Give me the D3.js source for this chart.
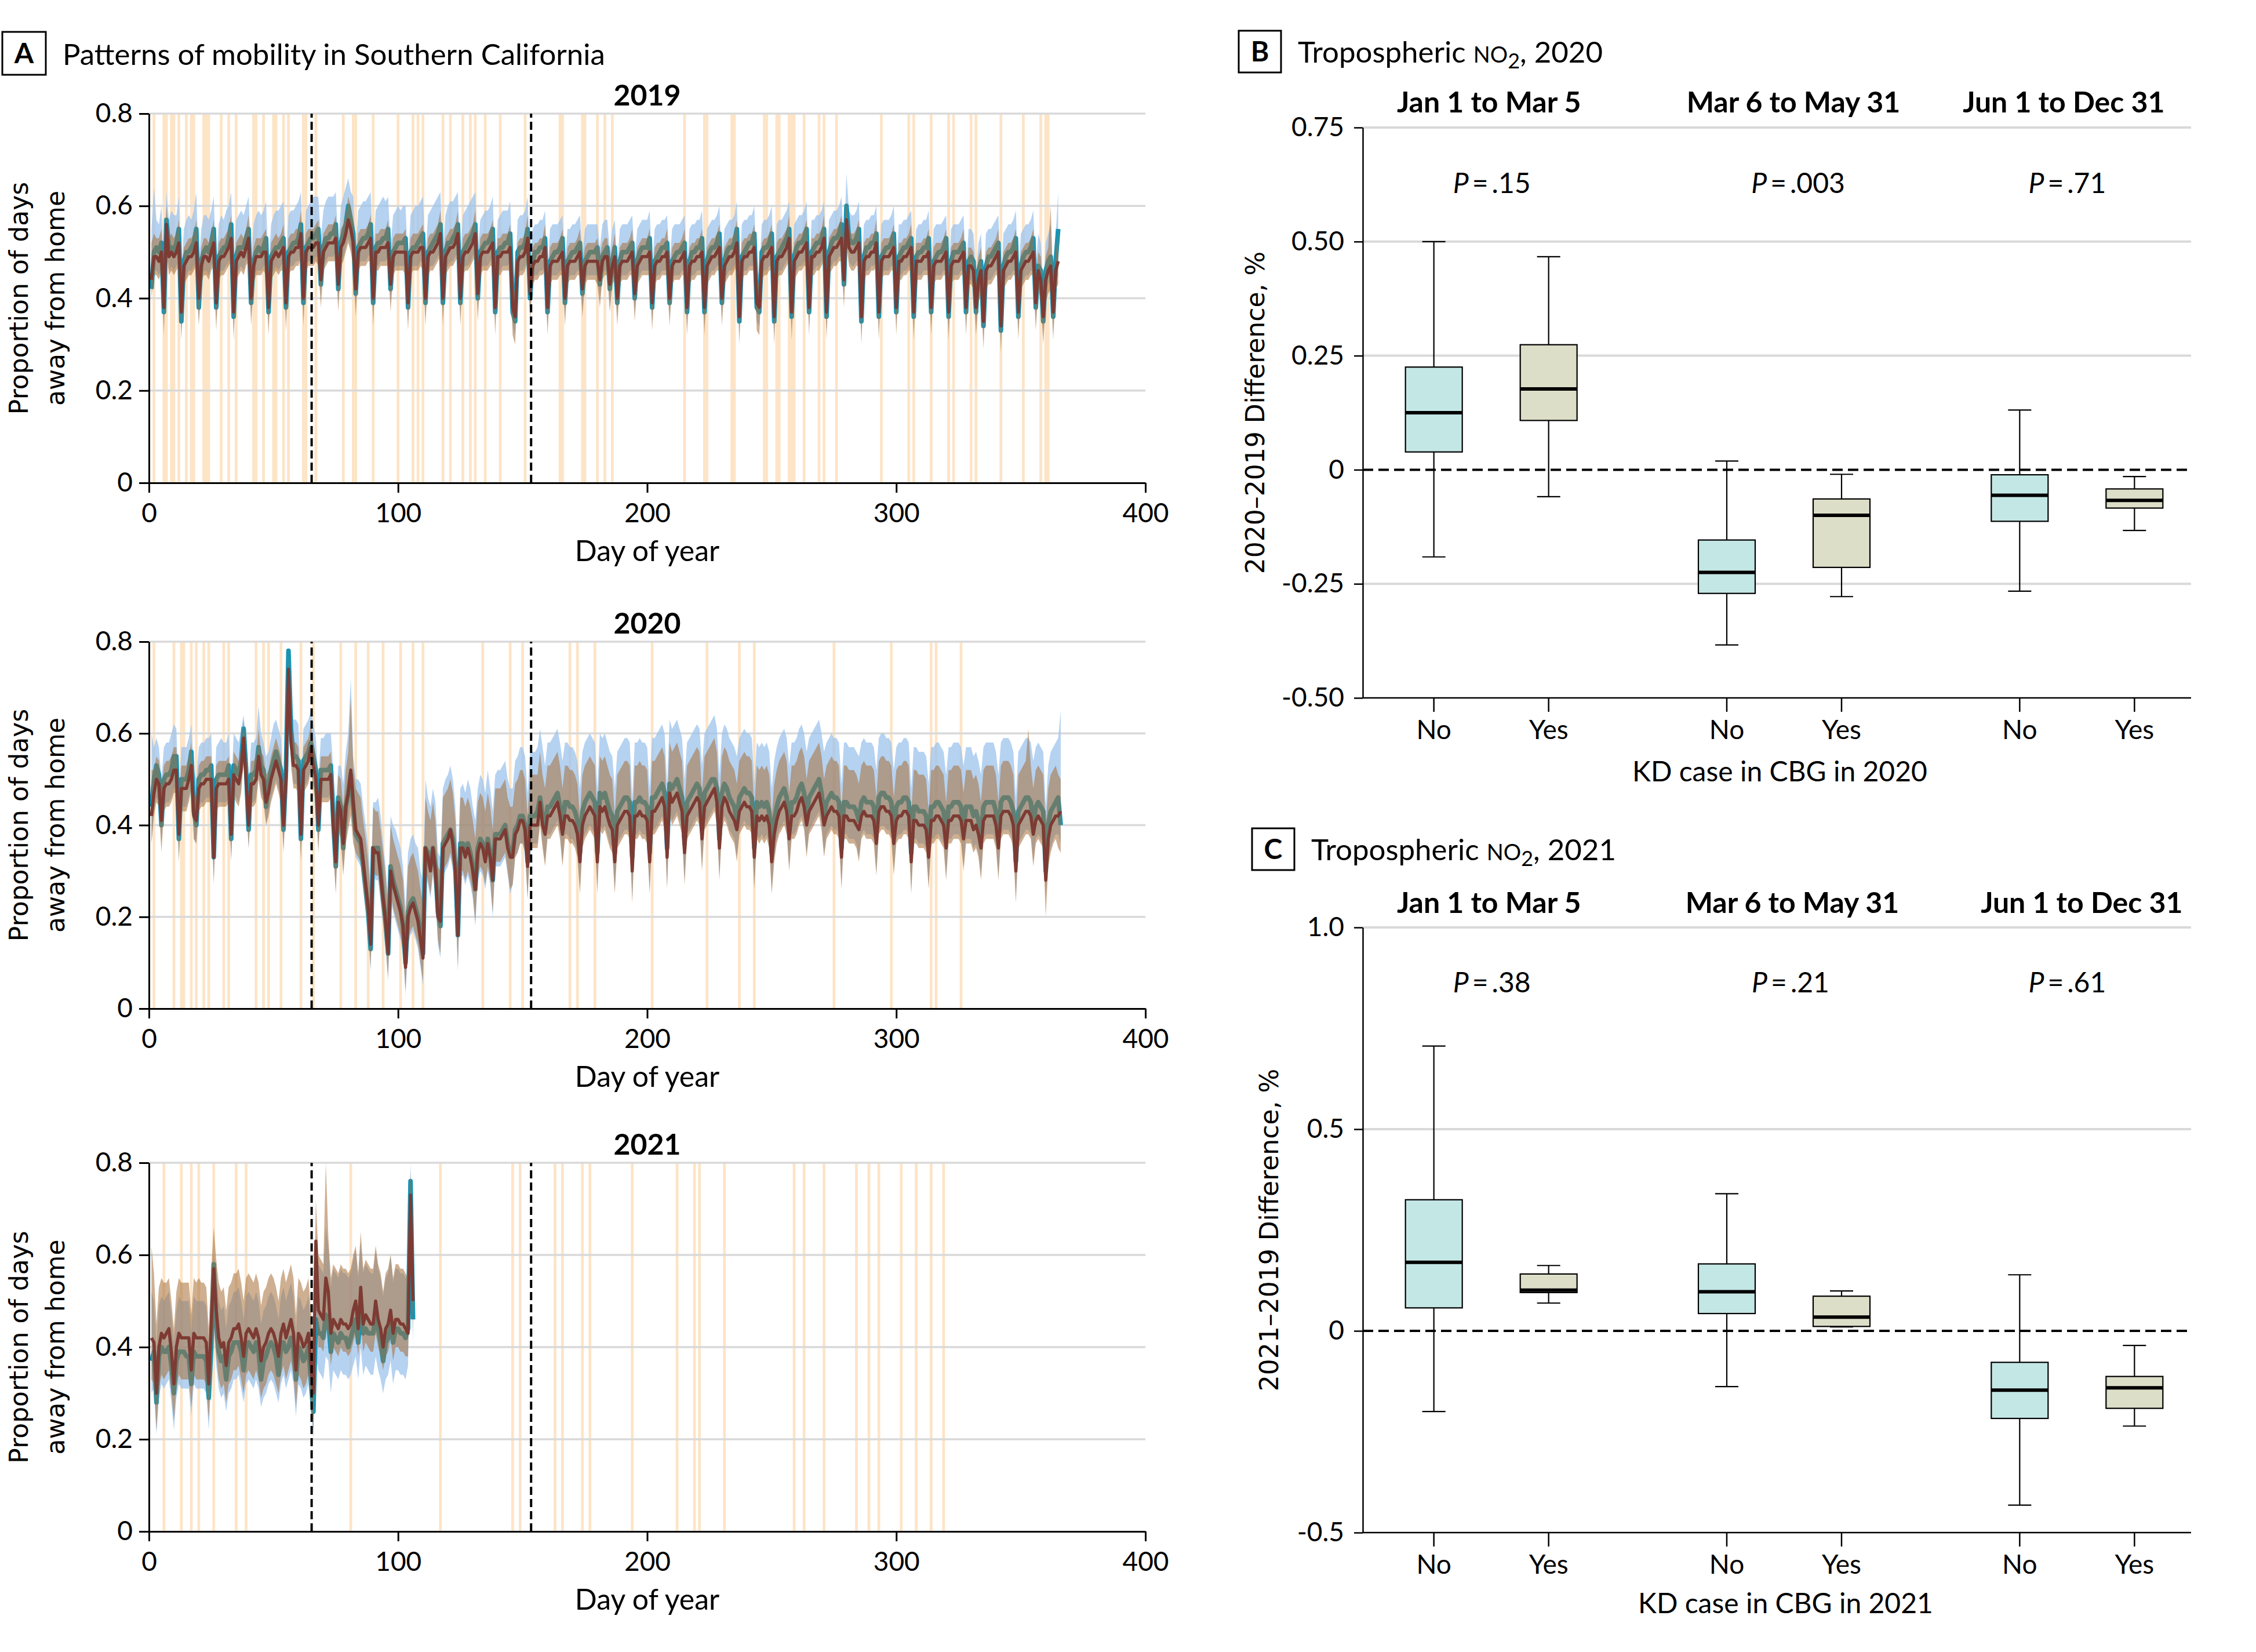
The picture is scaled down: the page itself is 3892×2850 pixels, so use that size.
<!DOCTYPE html>
<html><head><meta charset="utf-8">
<script src="https://cdn.jsdelivr.net/npm/d3@7"></script>
<style>body{margin:0;background:#fff}svg{display:block}</style>
</head><body>
<svg id="c" width="3892" height="2850"></svg>
<script>
// ---------------- DATA (panel A values are in hundredths of a proportion) ----------------
const xTicksA = [0,100,200,300,400];
const yTickValsA = [0,0.2,0.4,0.6,0.8];
const yTickLabelsA = ["0","0.2","0.4","0.6","0.8"];
const periodBreaks = [65.3,153.4];

// 2019 (day 1 = Jan 1)
const red2019 = [44,49,49,48,50,38,
56,49,50,49,50,52,37, 47,48,49,49,50,52,40, 47,49,49,48,50,52,39, 48,49,49,50,51,53,37,
48,49,50,49,51,53,40, 47,49,49,49,50,50,38, 48,49,50,49,50,51,39, 49,50,50,51,51,54,40,
50,51,51,51,52,52,44, 50,51,52,52,52,53,43, 51,52,54,57,55,52,42, 50,51,51,51,52,53,40,
50,50,51,51,51,52,43, 49,50,50,50,50,50,39, 49,50,50,50,51,51,40, 49,50,50,51,52,54,40,
49,50,51,51,52,54,40, 49,50,50,51,52,54,41, 49,50,50,50,51,52,38, 49,49,50,50,50,51,38,
36,48,49,49,50,53,41, 47,48,48,49,49,51,38, 47,48,48,48,49,50,40, 47,48,48,48,49,50,42,
47,48,48,48,48,48,44, 48,49,49,43,47,49,40, 47,48,48,48,49,50,41, 47,48,49,49,49,50,39,
47,48,48,49,49,50,40, 47,48,48,48,49,50,38, 47,48,48,49,49,50,38, 47,48,49,49,50,51,40,
47,48,49,49,50,52,36, 48,49,49,50,50,51,39, 38,48,49,49,50,51,36, 48,49,49,50,51,53,37,
48,49,50,50,51,52,38, 49,49,50,50,51,53,37, 49,50,51,51,52,53,44, 57,51,50,50,51,52,36,
48,49,49,50,50,52,37, 48,49,49,49,50,51,38, 48,48,49,49,50,51,37, 48,48,48,49,49,50,38,
47,48,48,48,49,50,37, 47,48,48,48,49,50,38, 47,47,46,38,44,46,35, 46,47,47,48,49,50,34,
46,47,48,48,49,50,37, 46,47,48,48,49,50,39, 46,44,36,44,46,47,37,
46,48];
const teal2019 = [42,50,51,50,52,37,
57,51,51,50,52,55,35, 48,50,50,51,52,55,38, 48,50,51,50,52,55,38, 49,50,51,51,53,56,36,
49,51,51,51,53,55,39, 48,50,51,50,51,53,37, 49,50,51,51,52,53,38, 50,51,52,52,53,56,39,
51,52,53,53,54,55,43, 51,53,53,54,54,56,42, 52,54,56,60,57,54,41, 51,52,53,53,54,56,39,
51,52,52,53,53,55,42, 50,51,52,52,52,53,38, 50,51,51,52,53,54,39, 50,51,52,53,54,56,39,
50,52,52,53,54,56,39, 50,51,52,53,54,56,40, 50,51,52,52,53,55,37, 50,51,51,52,52,54,37,
35,50,51,51,52,55,40, 48,50,50,51,51,53,37, 48,49,50,50,51,53,39, 48,49,50,50,51,52,41,
48,49,50,50,50,51,43, 49,50,51,42,48,51,39, 48,50,50,50,51,52,40, 48,50,51,51,51,53,38,
48,49,50,51,51,52,39, 48,49,50,50,51,52,37, 48,50,50,51,51,53,37, 48,50,51,51,52,54,39,
48,50,51,51,52,55,35, 49,50,51,52,52,54,38, 37,50,51,51,52,54,35, 49,50,51,52,53,55,36,
49,51,52,52,53,55,37, 50,51,52,52,53,55,36, 50,52,53,53,54,56,43, 60,53,52,52,53,55,35,
49,51,51,52,52,54,36, 49,50,51,51,52,54,37, 49,50,51,51,52,53,36, 49,50,50,51,51,53,37,
48,49,50,50,51,53,36, 48,50,50,50,51,52,37, 48,49,48,37,46,48,34, 47,49,49,50,51,52,33,
47,49,50,50,51,53,36, 47,49,50,50,51,53,38, 47,46,35,46,48,49,36,
48,55];
const blueLo2019 = [42,46,46,45,47,34,
52,46,47,46,47,48,33, 44,45,46,46,47,48,35, 44,46,46,45,47,48,35, 45,46,46,47,48,49,33,
45,46,47,46,48,49,36, 44,46,46,46,47,47,34, 45,46,47,46,47,48,35, 46,47,47,48,48,50,36,
47,48,48,48,49,49,40, 47,48,49,49,49,50,39, 48,49,51,53,51,49,38, 47,48,48,48,49,50,36,
47,47,48,48,48,49,39, 46,47,47,47,47,47,35, 46,47,47,47,48,48,36, 46,47,47,48,49,50,36,
46,47,48,48,49,50,36, 46,47,47,48,49,50,37, 46,47,47,47,48,49,34, 46,46,47,47,47,48,34,
32,45,46,46,47,49,37, 44,45,45,46,46,47,34, 44,45,45,45,46,46,36, 44,45,45,45,46,46,38,
44,45,45,45,45,45,40, 45,46,46,38,44,45,36, 44,45,45,45,46,46,37, 44,45,46,46,46,46,35,
44,45,45,46,46,46,36, 44,45,45,45,46,46,34, 44,45,45,46,46,46,34, 44,45,46,46,47,47,36,
44,45,46,46,47,48,32, 45,46,46,47,47,47,35, 34,45,46,46,47,47,32, 45,46,46,47,48,49,33,
45,46,47,47,48,48,34, 46,46,47,47,48,49,33, 46,47,48,48,49,49,40, 54,48,47,47,48,48,32,
45,46,46,47,47,48,33, 45,46,46,46,47,47,34, 45,45,46,46,47,47,33, 45,45,45,46,46,46,34,
44,45,45,45,46,46,33, 44,45,45,45,46,46,34, 44,44,43,34,41,43,31, 43,44,44,45,46,46,30,
43,44,45,45,46,46,33, 43,44,45,45,46,46,35, 43,41,32,41,43,44,33,
43,45];
const blueHi2019 = [55,64,57,56,60,46,
63,57,59,58,58,62,45, 55,57,58,57,59,63,47, 55,58,58,57,59,62,46, 56,58,57,59,60,63,45,
57,58,59,58,60,62,48, 56,58,59,58,59,61,46, 56,58,59,59,60,61,47, 58,59,59,60,61,63,48,
59,60,61,62,62,62,53, 59,61,62,62,62,63,51, 60,62,64,66,63,62,50, 59,60,61,61,62,63,48,
59,60,61,62,61,62,51, 58,59,60,59,60,60,47, 58,59,60,60,61,62,48, 58,59,60,61,62,63,48,
58,60,61,61,62,63,48, 58,59,60,61,62,63,49, 57,58,59,59,60,62,46, 57,58,59,59,59,61,46,
44,57,58,58,59,62,48, 55,56,56,57,57,59,45, 55,56,56,56,57,58,47, 55,55,56,56,57,58,49,
55,56,56,56,56,56,51, 56,57,57,50,55,57,47, 55,56,56,56,57,58,48, 55,56,57,57,57,59,46,
55,56,56,57,57,58,47, 55,56,56,56,57,58,45, 55,56,56,57,57,59,45, 55,56,57,57,58,60,47,
55,56,57,57,58,61,43, 56,57,57,58,58,60,46, 45,56,57,57,58,60,43, 56,57,57,58,59,61,44,
56,57,58,58,59,61,45, 57,57,58,58,59,61,44, 57,58,59,59,60,62,51, 67,59,58,58,59,61,43,
56,57,57,58,58,60,44, 56,57,57,57,58,60,45, 56,56,57,57,58,59,44, 55,56,56,57,57,59,45,
55,56,56,56,57,58,44, 55,56,56,56,57,58,45, 55,55,54,45,52,54,42, 54,55,55,56,57,58,41,
54,55,56,56,57,59,44, 54,55,56,56,57,59,46, 54,52,43,52,54,56,44,
54,63];
const brownLo2019 = [40,45,45,44,46,32,
51,45,46,45,46,47,31, 43,44,45,45,46,47,34, 43,45,45,44,46,47,33, 44,45,45,46,47,48,31,
44,45,46,45,47,48,34, 43,45,45,45,46,45,32, 44,45,46,45,46,46,33, 45,46,46,47,47,49,34,
46,47,47,47,48,47,38, 46,47,48,48,48,48,37, 47,48,50,52,50,47,36, 46,47,47,47,48,48,34,
46,46,47,47,47,47,37, 45,46,46,46,46,45,33, 45,46,46,46,47,46,34, 45,46,46,47,48,49,34,
45,46,47,47,48,49,34, 45,46,46,47,48,49,35, 45,46,46,46,47,47,32, 45,45,46,46,46,46,32,
30,44,45,45,46,48,35, 43,44,44,45,45,46,32, 43,44,44,44,45,45,34, 43,44,44,44,45,45,36,
43,44,44,44,44,43,38, 44,45,45,37,43,44,34, 43,44,44,44,45,45,35, 43,44,45,45,45,45,33,
43,44,44,45,45,45,34, 43,44,44,44,45,45,32, 43,44,44,45,45,45,32, 43,44,45,45,46,46,34,
43,44,45,45,46,47,30, 44,45,45,46,46,46,33, 32,44,45,45,46,46,30, 44,45,45,46,47,48,31,
44,45,46,46,47,47,32, 45,45,46,46,47,48,31, 45,46,47,47,48,48,38, 52,47,46,46,47,47,30,
44,45,45,46,46,47,31, 44,45,45,45,46,46,32, 44,44,45,45,46,46,31, 44,44,44,45,45,45,32,
43,44,44,44,45,45,31, 43,44,44,44,45,45,32, 43,43,42,32,39,41,29, 42,43,43,44,45,45,28,
42,43,44,44,45,45,31, 42,43,44,44,45,45,33, 42,39,30,39,41,42,31,
42,43];
const brownHi2019 = [52,54,53,53,55,43,
60,53,54,53,54,57,42, 51,52,53,53,54,57,45, 51,53,53,52,54,57,44, 52,53,53,54,55,58,42,
52,53,54,53,55,58,45, 51,53,53,53,54,55,43, 52,53,54,53,54,56,44, 53,54,54,55,55,59,45,
54,55,55,55,56,57,49, 54,55,56,56,56,58,48, 55,56,58,62,60,57,47, 54,55,55,55,56,58,45,
54,54,55,55,55,57,48, 53,54,54,54,54,55,44, 53,54,54,54,55,56,45, 53,54,54,55,56,59,45,
53,54,55,55,56,59,45, 53,54,54,55,56,59,46, 53,54,54,54,55,57,43, 53,53,54,54,54,56,43,
41,52,53,53,54,58,46, 51,52,52,53,53,56,43, 51,52,52,52,53,55,45, 51,52,52,52,53,55,47,
51,52,52,52,52,53,49, 52,53,53,48,51,54,45, 51,52,52,52,53,55,46, 51,52,53,53,53,55,44,
51,52,52,53,53,55,45, 51,52,52,52,53,55,43, 51,52,52,53,53,55,43, 51,52,53,53,54,56,45,
51,52,53,53,54,57,41, 52,53,53,54,54,56,44, 43,52,53,53,54,56,41, 52,53,53,54,55,58,42,
52,53,54,54,55,57,43, 53,53,54,54,55,58,42, 53,54,55,55,56,58,49, 61,55,54,54,55,57,41,
52,53,53,54,54,57,42, 52,53,53,53,54,56,43, 52,52,53,53,54,56,42, 52,52,52,53,53,55,43,
51,52,52,52,53,55,42, 51,52,52,52,53,55,43, 51,51,50,43,49,51,40, 50,51,51,52,53,55,39,
50,51,52,52,53,55,42, 50,51,52,52,53,55,44, 50,49,41,49,51,60,42,
50,54];
const stripes2019 = [2,6,7,9,10,12,15,17,18,22,23,24,29,32,35,42,43,46,50,51,54,56,62,63,67,78,82,83,90,100,106,108,110,118,121,126,129,131,135,141,151,165,166,174,175,180,183,186,215,223,224,234,235,247,248,252,253,257,258,259,263,269,271,276,294,305,307,314,321,323,330,332,342,351,358,360,361];

// 2020
const red2020 = [42,47,50,49,41,
48,49,49,50,52,52,38, 48,48,48,50,53,42,41, 48,49,49,50,50,50,33, 48,49,49,49,49,50,38,
51,50,49,52,59,50,40, 49,49,50,55,51,50,45, 47,50,52,54,52,50,40, 50,74,58,53,53,52,38,
52,53,54,57,53,50,40, 50,50,50,50,51,40,32, 45,43,36,44,47,52,45, 39,38,37,32,27,22,14,
35,34,34,29,24,19,12, 30,27,25,23,21,18,9, 20,22,23,21,19,15,11, 35,33,30,35,30,20,19,
35,36,37,39,36,30,16, 35,35,33,35,33,30,26, 34,36,35,32,36,33,28, 37,37,37,38,39,35,33,
33,38,39,41,41,39,31, 40,40,40,40,45,40,38, 42,42,43,44,45,42,38, 42,42,41,41,40,38,32,
40,42,43,44,43,42,32, 44,43,44,42,40,39,32, 40,41,42,43,43,42,30, 42,42,43,42,42,41,32,
43,43,44,45,46,44,33, 47,45,46,47,45,43,34, 42,43,44,45,46,45,37, 44,45,46,47,48,45,35,
44,46,45,43,42,41,39, 43,44,45,44,44,43,33, 42,41,42,41,42,40,32, 38,41,43,44,45,43,37,
42,42,43,45,46,44,40, 43,44,45,46,47,44,40, 42,43,44,43,43,42,33, 42,42,41,41,41,40,39,
42,43,42,42,42,41,36, 43,44,44,43,43,42,36, 41,42,42,43,43,42,32, 41,41,40,40,40,39,33,
41,41,42,42,41,40,35, 41,41,42,42,42,41,37, 41,41,41,39,40,38,35, 41,42,42,42,42,40,35,
42,43,43,43,42,40,30, 40,41,42,43,43,42,38, 41,42,41,40,28,37,40,
41,42,42,43];
const teal2020 = [44,50,53,51,40,
50,51,51,52,55,55,37, 50,50,50,52,56,43,40, 50,51,51,52,52,53,33, 50,51,51,51,51,53,37,
53,52,51,54,61,52,39, 51,51,52,57,53,52,44, 49,52,54,56,54,52,39, 52,78,61,55,55,54,37,
54,55,56,58,55,52,39, 52,52,52,52,53,41,31, 46,44,35,44,47,51,44, 38,37,36,31,26,21,13,
35,35,35,30,24,19,12, 31,28,26,24,22,18,10, 21,23,24,22,20,16,12, 35,34,31,35,31,21,18,
36,37,38,39,37,31,16, 36,36,34,36,34,31,26, 35,37,36,33,37,34,28, 38,38,38,39,40,36,34,
34,39,40,42,42,40,32, 42,42,42,43,46,42,39, 44,44,45,46,47,44,39, 45,45,44,44,43,41,34,
43,45,46,47,46,45,34, 47,46,47,45,43,42,34, 43,44,45,46,46,45,33, 45,45,46,45,45,44,34,
46,46,47,48,49,47,35, 49,48,49,50,48,46,36, 45,46,47,48,49,48,39, 47,48,49,50,50,48,37,
47,49,48,46,45,44,41, 46,47,48,47,47,46,35, 45,44,45,44,45,43,34, 41,44,46,47,48,46,39,
45,45,46,48,49,47,42, 46,47,48,49,50,47,42, 45,46,47,46,46,45,35, 45,45,44,44,44,43,41,
45,46,45,45,45,44,38, 46,47,47,46,46,45,38, 44,45,45,46,46,45,34, 44,44,43,43,43,42,35,
44,44,45,45,44,43,37, 44,44,45,45,45,44,39, 44,44,44,42,43,41,37, 44,45,45,45,45,43,37,
45,46,46,46,45,43,32, 43,44,45,46,46,45,40, 44,45,44,43,30,40,43,
44,45,46,40];
const blueLo2020 = [36,43,46,45,36,
44,45,45,46,48,48,33, 44,44,44,46,49,37,36, 44,45,45,46,46,46,28, 44,45,45,45,45,46,33,
47,46,45,48,55,46,35, 45,45,46,51,47,46,40, 43,46,48,50,48,46,35, 46,66,54,49,49,48,33,
48,49,50,52,49,46,35, 46,46,46,46,47,35,26, 40,37,30,38,41,45,38, 33,32,31,26,21,16,8,
29,28,28,23,18,13,6, 24,21,19,17,15,12,3, 14,16,17,15,13,9,5, 29,27,24,29,24,14,11,
29,30,31,33,30,24,8, 29,29,27,29,27,24,18, 28,30,29,26,30,27,20, 31,31,31,32,33,29,25,
27,33,34,36,36,34,24, 36,36,36,36,41,36,32, 38,38,39,40,41,38,32, 38,38,37,37,36,34,26,
36,38,39,40,39,38,26, 40,39,40,38,36,35,26, 36,37,38,39,39,38,24, 38,38,39,38,38,37,26,
39,39,40,41,42,40,27, 43,41,42,43,41,39,28, 38,39,40,41,42,41,31, 40,41,42,43,44,41,29,
40,42,41,39,38,37,33, 39,40,41,40,40,39,27, 38,37,38,37,38,36,26, 33,37,39,40,41,39,31,
38,38,39,41,42,40,34, 39,40,41,42,43,40,34, 38,39,40,39,39,38,27, 38,38,37,37,37,36,33,
38,39,38,38,38,37,30, 39,40,40,39,39,38,30, 37,38,38,39,39,38,26, 37,37,36,36,36,35,27,
37,37,38,38,37,36,29, 37,37,38,38,38,37,31, 37,37,37,35,36,34,29, 37,38,38,38,38,36,29,
38,39,39,39,38,36,24, 36,37,38,39,39,38,32, 37,38,37,36,24,33,35,
37,38,38,36];
const blueHi2020 = [60,57,59,57,50,
57,58,58,60,62,61,46, 57,57,57,59,62,52,50, 57,58,58,59,59,60,42, 57,58,59,58,58,60,47,
60,59,58,61,64,58,49, 58,58,59,66,60,58,55, 56,59,62,63,61,59,49, 60,78,67,63,63,62,47,
61,62,63,65,62,59,50, 59,59,60,60,60,52,44, 53,53,49,56,60,72,55, 50,50,49,44,40,35,27,
45,45,46,42,36,31,24, 42,40,39,37,35,31,22, 34,37,38,36,35,30,28, 50,46,44,48,45,34,33,
48,50,51,53,50,44,33, 48,49,47,50,48,44,41, 48,51,50,47,52,48,43, 51,52,52,53,54,50,48,
48,54,55,57,57,55,47, 56,56,56,57,61,57,53, 58,58,59,60,61,58,54, 58,58,57,57,56,54,48,
56,58,59,60,59,58,48, 60,59,60,58,56,55,48, 56,57,58,59,59,58,46, 58,58,59,58,58,57,48,
59,59,60,61,62,60,49, 63,61,62,63,61,59,50, 58,59,60,61,62,61,53, 60,61,62,63,64,61,51,
60,62,61,59,58,57,55, 59,60,61,60,60,59,49, 58,57,58,57,58,56,48, 54,57,59,60,61,59,53,
58,58,59,61,62,60,56, 59,60,61,62,63,60,56, 58,59,60,59,59,58,49, 58,58,57,57,57,56,55,
58,59,58,58,58,57,52, 59,60,60,59,59,58,52, 57,58,58,59,59,58,48, 57,57,56,56,56,55,49,
57,57,58,58,57,56,51, 57,57,58,58,58,57,53, 57,57,57,55,56,54,51, 57,58,58,58,58,56,51,
58,59,59,59,58,56,46, 56,57,58,59,59,58,54, 57,58,57,56,44,53,56,
57,58,59,65];
const brownLo2020 = [36,42,45,44,34,
43,44,44,45,47,47,32, 43,43,43,45,48,37,36, 43,44,44,45,45,45,27, 43,44,44,44,44,45,32,
46,45,44,47,54,45,35, 44,44,45,50,46,45,40, 42,45,47,49,47,45,34, 45,70,53,48,48,47,32,
47,48,49,52,48,45,34, 45,45,45,45,46,34,25, 39,37,29,36,39,42,36, 34,33,32,27,22,17,9,
30,29,29,24,19,14,7, 25,22,20,18,16,13,4, 15,17,18,16,14,10,6, 30,28,25,30,25,15,12,
30,31,32,34,31,25,9, 30,30,28,30,28,25,19, 29,31,30,27,31,28,21, 32,32,32,33,34,30,26,
27,33,34,36,36,34,24, 35,35,35,35,40,35,31, 37,37,38,39,40,37,31, 37,37,36,36,35,33,25,
35,37,38,39,38,37,25, 39,38,39,37,35,34,25, 35,36,37,38,38,37,23, 37,37,38,37,37,36,25,
38,38,39,40,41,39,26, 42,40,41,42,40,38,27, 37,38,39,40,41,40,30, 39,40,41,42,43,40,28,
39,41,40,38,37,36,32, 38,39,40,39,39,38,26, 37,36,37,36,37,35,25, 32,36,38,39,40,38,30,
37,37,38,40,41,39,33, 38,39,40,41,42,39,33, 37,38,39,38,38,37,26, 37,37,36,36,36,35,32,
37,38,37,37,37,36,29, 38,39,39,38,38,37,29, 36,37,37,38,38,37,25, 36,36,35,35,35,34,26,
36,36,37,37,36,35,28, 36,36,37,37,37,36,30, 36,36,36,34,35,33,28, 36,37,37,37,37,35,28,
37,38,38,38,37,35,23, 35,36,37,38,38,37,31, 36,37,36,35,20,31,34,
36,37,35,34];
const brownHi2020 = [52,52,55,54,48,
53,54,54,55,57,57,44, 53,53,53,55,58,47,46, 53,54,54,55,55,55,39, 53,54,54,54,54,55,43,
56,55,54,57,63,55,45, 54,54,55,61,56,55,51, 52,55,57,59,57,55,45, 55,76,63,58,58,57,44,
57,58,59,62,58,55,46, 55,55,55,55,56,47,39, 51,50,44,52,56,68,53, 48,47,46,41,37,32,24,
44,43,43,39,34,29,22, 40,37,35,33,31,28,19, 31,33,34,32,30,26,23, 46,43,41,45,41,31,30,
46,47,48,50,47,41,28, 46,46,44,46,44,41,37, 45,47,46,43,47,44,39, 48,48,48,49,50,46,44,
44,49,50,52,52,50,42, 51,51,51,51,56,51,48, 53,53,54,55,56,53,48, 53,53,52,52,51,49,42,
51,53,54,55,54,53,42, 55,54,55,53,51,50,42, 51,52,53,54,54,53,40, 53,53,54,53,53,52,42,
54,54,55,56,57,55,43, 58,56,57,58,56,54,44, 53,54,55,56,57,56,47, 55,56,57,58,59,56,45,
55,57,56,54,53,52,49, 54,55,56,55,55,54,43, 53,52,53,52,53,51,42, 49,52,54,55,56,54,47,
53,53,54,56,57,55,50, 54,55,56,57,58,55,50, 53,54,55,54,54,53,43, 53,53,52,52,52,51,49,
53,54,53,53,53,52,46, 54,55,55,54,54,53,46, 52,53,53,54,54,53,42, 52,52,51,51,51,50,43,
52,52,53,53,52,51,45, 52,52,53,53,53,52,47, 52,52,52,50,51,49,45, 52,53,53,53,53,51,45,
53,54,54,54,53,51,40, 51,52,53,54,61,53,48, 52,53,52,51,40,48,51,
52,53,51,50];
const stripes2020 = [2,10,13,14,17,19,22,24,30,32,43,46,48,53,61,66,77,83,88,94,101,106,110,134,145,150,169,172,179,202,224,237,243,275,298,314,316,326];

// 2021 (data ends mid-April)
const red2021 = [42,41,30,
40,43,42,43,44,39,32, 40,43,42,42,42,42,35, 43,42,42,42,42,41,32, 45,57,48,42,40,41,36,
41,42,44,44,45,42,38, 43,44,43,42,44,42,37, 40,41,43,44,43,41,38, 43,45,42,44,46,43,35,
43,42,40,41,43,36,30, 63,48,47,46,55,52,43, 46,45,44,46,45,45,44, 45,48,50,44,53,45,47,
46,45,45,50,46,44,40, 44,45,48,43,46,46,45,
45,44,43,73,50];
const teal2021 = [37,39,28,
38,40,39,39,40,36,30, 37,39,39,39,38,38,32, 39,38,38,38,38,37,29, 40,58,45,39,37,38,33,
38,39,41,41,41,39,35, 40,41,40,39,41,39,33, 37,38,40,41,40,38,34, 40,41,39,40,42,40,33,
40,39,37,38,40,33,26, 46,43,43,42,47,46,39, 43,42,41,43,42,42,40, 42,44,46,41,48,43,44,
43,43,43,47,44,41,37, 41,42,45,41,44,44,43,
43,42,44,76,46];
const blueLo2021 = [30,31,21,
29,32,31,32,33,28,22, 29,32,31,31,31,31,25, 32,31,31,31,31,30,22, 33,44,36,31,29,30,26,
30,31,33,33,34,31,28, 32,33,32,31,33,31,27, 29,30,32,33,32,30,28, 32,34,31,33,35,32,25,
32,31,29,30,32,26,20, 38,35,34,33,38,37,30, 35,34,33,35,34,34,33, 34,36,38,33,40,34,36,
35,34,34,38,35,33,30, 33,34,37,32,35,35,34,
34,33,36,70,40];
const blueHi2021 = [52,50,40,
49,51,50,51,52,47,41, 48,51,50,50,50,50,43, 51,50,50,50,50,49,41, 52,60,55,50,48,49,44,
49,50,52,52,53,50,46, 51,52,51,50,52,50,45, 48,49,51,52,51,49,46, 51,53,50,52,54,51,43,
51,50,48,49,51,44,38, 64,58,57,56,66,62,53, 57,56,55,57,56,56,55, 56,59,61,55,63,56,58,
57,56,56,61,57,55,51, 55,56,60,54,57,57,56,
56,55,56,80,60];
const brownLo2021 = [33,32,22,
31,34,33,34,35,30,24, 31,34,33,33,33,33,27, 34,33,33,33,33,32,24, 36,46,38,33,31,32,28,
32,33,35,35,36,33,30, 34,35,34,33,35,33,29, 31,32,34,35,34,32,30, 34,36,33,35,37,34,27,
34,33,31,32,34,28,22, 50,40,40,39,44,43,36, 40,39,38,40,39,39,38, 39,41,43,38,45,39,41,
40,39,39,43,40,38,35, 38,39,42,37,40,40,39,
39,38,38,62,43];
const brownHi2021 = [62,56,45,
53,55,54,54,55,50,44, 52,55,54,54,54,54,47, 55,54,55,54,54,53,44, 57,66,59,54,52,53,48,
53,54,56,56,57,54,50, 55,56,55,54,56,54,49, 52,53,55,56,55,53,50, 55,57,54,56,58,55,47,
55,54,52,53,55,48,42, 72,60,59,58,80,64,55, 58,57,56,58,57,57,56, 57,60,62,56,65,57,59,
58,57,57,62,58,56,52, 56,57,60,55,58,58,57,
57,56,55,78,62];
const stripes2021 = [6,13,17,20,26,35,39,81,117,146,149,163,166,174,177,194,212,219,221,231,259,263,271,284,289,293,302,308,314,319];

// Panels B and C: box plot statistics (2020-2019 and 2021-2019 NO2 difference, %)
const periods = ["Jan 1 to Mar 5","Mar 6 to May 31","Jun 1 to Dec 31"];
const kdCats = ["No","Yes"];
const pB = ["P = .15","P = .003","P = .71"];
const pC = ["P = .38","P = .21","P = .61"];
const bLo  = [-0.191,-0.059,-0.384,-0.278,-0.266,-0.133];
const bQ1  = [ 0.039, 0.108,-0.271,-0.214,-0.113,-0.084];
const bMed = [ 0.125, 0.177,-0.225,-0.100,-0.056,-0.067];
const bQ3  = [ 0.225, 0.274,-0.154,-0.064,-0.011,-0.042];
const bHi  = [ 0.500, 0.467, 0.019,-0.010, 0.131,-0.015];
const cLo  = [-0.200, 0.069,-0.138, 0.010,-0.432,-0.236];
const cQ1  = [ 0.057, 0.095, 0.043, 0.011,-0.217,-0.192];
const cMed = [ 0.170, 0.101, 0.097, 0.034,-0.147,-0.141];
const cQ3  = [ 0.325, 0.141, 0.166, 0.086,-0.078,-0.113];
const cHi  = [ 0.706, 0.162, 0.340, 0.099, 0.139,-0.036];
const bTicks = [-0.5,-0.25,0,0.25,0.5,0.75], bTickLabels = ["-0.50","-0.25","0","0.25","0.50","0.75"];
const cTicks = [-0.5,0,0.5,1.0], cTickLabels = ["-0.5","0","0.5","1.0"];

// ---------------- DRAWING ----------------
const FONT = "Lato, 'Open Sans', 'Liberation Sans', sans-serif";
const DJ = "'DejaVu Sans', sans-serif";
const svg = d3.select("#c");

function labelBox(x, y, w, h, letter) {
  svg.append("rect").attr("x",x).attr("y",y).attr("width",w).attr("height",h)
    .attr("fill","none").attr("stroke","#000").attr("stroke-width",3);
  svg.append("text").attr("x",x+w/2).attr("y",y+h/2+17).attr("text-anchor","middle")
    .attr("font-family",FONT).attr("font-weight",700).attr("font-size",48).text(letter);
}
function styleAxis(g, size) {
  g.attr("font-family",FONT).attr("font-size",size);
  g.selectAll("path,line").attr("stroke","#000").attr("stroke-width",3);
  g.selectAll("text").attr("fill","#000");
}

// Panel A
labelBox(4,55,75,74,"A");
svg.append("text").attr("x",108).attr("y",112).attr("font-family",FONT).attr("font-size",51)
  .text("Patterns of mobility in Southern California");

const xA = d3.scaleLinear().domain([0,400]).range([257,1976]);
const panelsA = [
  {title:"2019", red:red2019, teal:teal2019, bLo:blueLo2019, bHi:blueHi2019, rLo:brownLo2019, rHi:brownHi2019, stripes:stripes2019, bottom:833, top:196},
  {title:"2020", red:red2020, teal:teal2020, bLo:blueLo2020, bHi:blueHi2020, rLo:brownLo2020, rHi:brownHi2020, stripes:stripes2020, bottom:1740, top:1107},
  {title:"2021", red:red2021, teal:teal2021, bLo:blueLo2021, bHi:blueHi2021, rLo:brownLo2021, rHi:brownHi2021, stripes:stripes2021, bottom:2642, top:2006}
];
panelsA.forEach(p => {
  const y = d3.scaleLinear().domain([0,0.8]).range([p.bottom,p.top]);
  const g = svg.append("g");
  const dayW = xA(1.1) - xA(0);
  g.append("g").selectAll("rect").data(p.stripes).join("rect")
    .attr("x", d => xA(d) - dayW/2).attr("width", dayW)
    .attr("y", y(0.8)).attr("height", y(0) - y(0.8)).attr("fill","#fde4c6");
  g.append("g").selectAll("line").data(yTickValsA.slice(1)).join("line")
    .attr("x1", xA(0)).attr("x2", xA(400)).attr("y1", d => y(d)).attr("y2", d => y(d))
    .attr("stroke","#d9d9d9").attr("stroke-width",3.5);
  const n = Math.min(p.red.length, p.teal.length, p.bLo.length, p.bHi.length, p.rLo.length, p.rHi.length);
  const days = d3.range(n);
  const area = (lo,hi) => d3.area().x(i => xA(i+1)).y0(i => y(lo[i]/100)).y1(i => y(hi[i]/100));
  const line = v => d3.line().x(i => xA(i+1)).y(i => y(v[i]/100));
  g.append("path").datum(days).attr("d", area(p.bLo,p.bHi)).attr("fill","#9cc3ec").attr("fill-opacity",0.75);
  g.append("path").datum(days).attr("d", line(p.teal)).attr("fill","none").attr("stroke","#1a93b3")
    .attr("stroke-width",8).attr("stroke-linejoin","round");
  g.append("path").datum(days).attr("d", area(p.rLo,p.rHi)).attr("fill","#a56e37").attr("fill-opacity",0.55);
  g.append("path").datum(days).attr("d", line(p.red)).attr("fill","none").attr("stroke","#7d3b33")
    .attr("stroke-width",5.5).attr("stroke-linejoin","round");
  g.append("g").selectAll("line").data(periodBreaks).join("line")
    .attr("x1", d => xA(d)).attr("x2", d => xA(d)).attr("y1", y(0)).attr("y2", y(0.8))
    .attr("stroke","#000").attr("stroke-width",4).attr("stroke-dasharray","14,7");
  const ax = g.append("g").attr("transform",`translate(0,${p.bottom})`)
    .call(d3.axisBottom(xA).tickValues(xTicksA).tickSize(17).tickSizeOuter(0).tickPadding(18));
  styleAxis(ax, 46);
  const ay = g.append("g").attr("transform",`translate(${xA(0)},0)`)
    .call(d3.axisLeft(y).tickValues(yTickValsA).tickFormat((d,i) => yTickLabelsA[i]).tickSize(17).tickSizeOuter(0).tickPadding(11));
  styleAxis(ay, 46);
  g.append("text").attr("x",(xA(0)+xA(400))/2).attr("y",p.top-14).attr("text-anchor","middle")
    .attr("font-family",FONT).attr("font-weight",700).attr("font-size",50).text(p.title);
  g.append("text").attr("x",(xA(0)+xA(400))/2).attr("y",p.bottom+135).attr("text-anchor","middle")
    .attr("font-family",FONT).attr("font-size",50).text("Day of year");
  const cy = (p.top+p.bottom)/2;
  [["Proportion of days",48],["away from home",111]].forEach(([t,bx]) => {
    g.append("text").attr("transform",`translate(${bx},${cy}) rotate(-90)`).attr("text-anchor","middle")
      .attr("font-family",DJ).attr("font-size",44).text(t);
  });
});

// Panels B and C
function boxPanel(cfg) {
  const y = d3.scaleLinear().domain(cfg.domain).range([cfg.bottom, cfg.top]);
  const gx = d3.scaleBand().domain(periods).range([2320, 3836]);
  const ix = d3.scalePoint().domain(kdCats).range([-99, 99]);
  const xl = 2351, xr = 3780;
  const g = svg.append("g");
  g.append("g").selectAll("line").data(cfg.grid).join("line")
    .attr("x1",xl).attr("x2",xr).attr("y1",d=>y(d)).attr("y2",d=>y(d))
    .attr("stroke","#d9d9d9").attr("stroke-width",4);
  g.append("line").attr("x1",xl).attr("x2",xr).attr("y1",y(0)).attr("y2",y(0))
    .attr("stroke","#000").attr("stroke-width",4).attr("stroke-dasharray","18,9");
  const boxes = [];
  periods.forEach((p,pi) => kdCats.forEach((k,ki) => {
    const i = pi*2+ki;
    boxes.push({cx: gx(p)+gx.bandwidth()/2+ix(k), k, lo:cfg.lo[i], q1:cfg.q1[i], med:cfg.med[i], q3:cfg.q3[i], hi:cfg.hi[i]});
  }));
  const hw = 49, cw = 20;
  const bg = g.append("g").selectAll("g").data(boxes).join("g");
  bg.append("line").attr("x1",d=>d.cx).attr("x2",d=>d.cx).attr("y1",d=>y(d.hi)).attr("y2",d=>y(d.lo))
    .attr("stroke","#000").attr("stroke-width",2.2);
  bg.append("line").attr("x1",d=>d.cx-cw).attr("x2",d=>d.cx+cw).attr("y1",d=>y(d.hi)).attr("y2",d=>y(d.hi))
    .attr("stroke","#000").attr("stroke-width",2.2);
  bg.append("line").attr("x1",d=>d.cx-cw).attr("x2",d=>d.cx+cw).attr("y1",d=>y(d.lo)).attr("y2",d=>y(d.lo))
    .attr("stroke","#000").attr("stroke-width",2.2);
  bg.append("rect").attr("x",d=>d.cx-hw).attr("width",2*hw).attr("y",d=>y(d.q3)).attr("height",d=>y(d.q1)-y(d.q3))
    .attr("fill",d=>d.k==="No"?"#c3e7e5":"#dcdec8").attr("stroke","#000").attr("stroke-width",2.2);
  bg.append("line").attr("x1",d=>d.cx-hw).attr("x2",d=>d.cx+hw).attr("y1",d=>y(d.med)).attr("y2",d=>y(d.med))
    .attr("stroke","#000").attr("stroke-width",6);
  // axes
  const ay = g.append("g").attr("transform",`translate(${xl},0)`)
    .call(d3.axisLeft(y).tickValues(cfg.ticks).tickFormat((d,i)=>cfg.tickLabels[i]).tickSize(15).tickSizeOuter(0).tickPadding(17));
  styleAxis(ay, 46);
  ay.selectAll("path,line").attr("stroke-width",2.5);
  g.append("line").attr("x1",xl).attr("x2",xr).attr("y1",cfg.bottom).attr("y2",cfg.bottom).attr("stroke","#000").attr("stroke-width",2.5);
  g.append("g").selectAll("line").data(boxes).join("line")
    .attr("x1",d=>d.cx).attr("x2",d=>d.cx).attr("y1",cfg.bottom).attr("y2",cfg.bottom+24).attr("stroke","#000").attr("stroke-width",2.5);
  g.append("g").selectAll("text").data(boxes).join("text")
    .attr("x",d=>d.cx).attr("y",cfg.catY).attr("text-anchor","middle")
    .attr("font-family",FONT).attr("font-size",46).text(d=>d.k);
  periods.forEach((p,pi) => {
    const cx = gx(p)+gx.bandwidth()/2;
    g.append("text").attr("x",cx+cfg.headDX[pi]).attr("y",cfg.headY).attr("text-anchor","middle")
      .attr("font-family",FONT).attr("font-weight",700).attr("font-size",50).text(p);
    const parts = cfg.p[pi].split(" = ");
    const t = g.append("text").attr("x",cx+cfg.pDX[pi]).attr("y",cfg.pY).attr("text-anchor","middle")
      .attr("font-family",FONT).attr("font-size",48);
    t.append("tspan").attr("font-style","italic").text(parts[0]);
    t.append("tspan").text("\u2009=\u2009" + parts[1]);
  });
  g.append("text").attr("x",(xl+xr)/2+cfg.xlabDX).attr("y",cfg.xlabY).attr("text-anchor","middle")
    .attr("font-family",FONT).attr("font-size",48).text(cfg.xlab);
  g.append("text").attr("transform",`translate(${cfg.ylabX},${(cfg.top+cfg.bottom)/2}) rotate(-90)`)
    .attr("text-anchor","middle").attr("font-family",DJ).attr("font-size",44).text(cfg.ylab);
  // title
  labelBox(cfg.boxX, cfg.boxY, 73, 72, cfg.letter);
  const tt = svg.append("text").attr("x",cfg.boxX+102).attr("y",cfg.titleY).attr("font-family",FONT).attr("font-size",51);
  tt.append("tspan").text("Tropospheric ");
  tt.append("tspan").attr("font-size",38).text("NO");
  tt.append("tspan").attr("font-size",36).attr("dy",10).text("2");
  tt.append("tspan").attr("dy",-10).text(", " + cfg.year);
}

boxPanel({domain:[-0.5,0.75], top:220, bottom:1204, grid:[0.75,0.5,0.25,-0.25], ticks:bTicks, tickLabels:bTickLabels,
  lo:bLo, q1:bQ1, med:bMed, q3:bQ3, hi:bHi, p:pB, headY:194, pY:333, catY:1275, xlabY:1348,
  headDX:[-4,16,-23], pDX:[1,24,-17], xlabDX:5,
  xlab:"KD case in CBG in 2020", ylab:"2020\u20132019 Difference, %", ylabX:2181,
  letter:"B", boxX:2137, boxY:53, titleY:108, year:"2020"});
boxPanel({domain:[-0.5,1.0], top:1600, bottom:2644, grid:[1.0,0.5], ticks:cTicks, tickLabels:cTickLabels,
  lo:cLo, q1:cQ1, med:cMed, q3:cQ3, hi:cHi, p:pC, headY:1575, pY:1712, catY:2715, xlabY:2783,
  headDX:[-4,14,8], pDX:[1,11,-17], xlabDX:15,
  xlab:"KD case in CBG in 2021", ylab:"2021\u20132019 Difference, %", ylabX:2205,
  letter:"C", boxX:2160, boxY:1429, titleY:1484, year:"2021"});
</script></body></html>
